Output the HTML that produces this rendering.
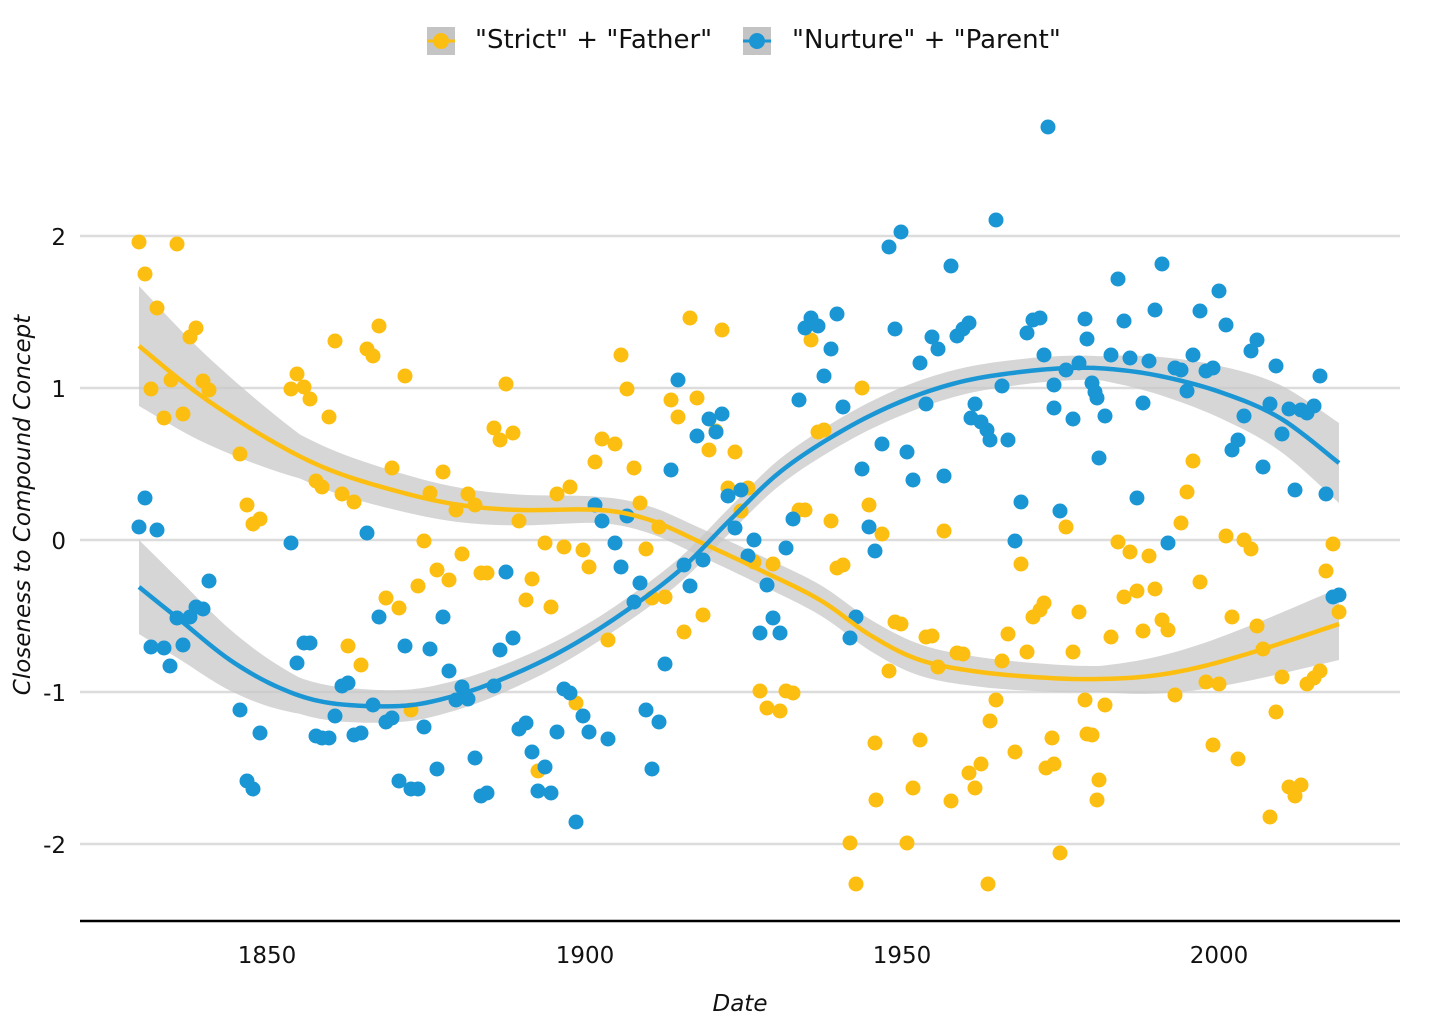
<!DOCTYPE html>
<html><head><meta charset="utf-8"><style>
body{margin:0;background:#fff;}
svg{display:block;font-family:"DejaVu Sans","Liberation Sans",sans-serif;}
</style></head><body>
<svg id="s" width="1432" height="1024" xmlns="http://www.w3.org/2000/svg">
<g stroke="#dcdcdc" stroke-width="2.5">
<line x1="80" x2="1400" y1="236" y2="236"/><line x1="80" x2="1400" y1="388" y2="388"/><line x1="80" x2="1400" y1="540" y2="540"/><line x1="80" x2="1400" y1="692" y2="692"/><line x1="80" x2="1400" y1="844" y2="844"/>
</g>
<g id="bands"></g>
<g id="pts"></g>
<g id="lines"></g>
<line x1="80" x2="1400" y1="921" y2="921" stroke="#000" stroke-width="2.5"/>
<g font-size="23" fill="#111" text-anchor="middle">
<text x="267" y="963">1850</text><text x="585" y="963">1900</text><text x="902" y="963">1950</text><text x="1219" y="963">2000</text>
</g>
<g font-size="23" fill="#111" text-anchor="end">
<text x="66" y="245">2</text><text x="66" y="397">1</text><text x="66" y="549">0</text><text x="66" y="701">-1</text><text x="66" y="853">-2</text>
</g>
<text x="740" y="1011" font-size="23" font-style="italic" text-anchor="middle" fill="#111">Date</text>
<text transform="translate(30,505) rotate(-90)" font-size="23" font-style="italic" text-anchor="middle" fill="#111">Closeness to Compound Concept</text>
<rect x="427" y="27" width="28" height="28" fill="#c4c4c4"/>
<line x1="427" x2="455" y1="41" y2="41" stroke="#fdbe12" stroke-width="3"/>
<circle cx="441" cy="41" r="8" fill="#fdbe12"/>
<text x="475" y="48" font-size="26" fill="#111">"Strict" + "Father"</text>
<rect x="743" y="27" width="28" height="28" fill="#c4c4c4"/>
<line x1="743" x2="771" y1="41" y2="41" stroke="#1b96d4" stroke-width="3"/>
<circle cx="757" cy="41" r="8" fill="#1b96d4"/>
<text x="792" y="48" font-size="26" fill="#111">"Nurture" + "Parent"</text>
</svg>
<script>
var Y=[[139,242],[145,274],[157,308],[151,389],[164,418],[171,380],[177,244],[183,414],[190,337],[196,328],[203,381],[209,390],[240,454],[247,505],[253,524],[260,519],[291,389],[297,374],[304,387],[310,399],[316,481],[322,487],[329,417],[335,341],[342,494],[348,646],[354,502],[361,665],[367,349],[373,356],[379,326],[386,598],[392,468],[399,608],[405,376],[411,710],[418,586],[424,541],[430,493],[437,570],[443,472],[449,580],[456,510],[462,554],[468,494],[475,505],[481,573],[487,573],[494,428],[500,440],[506,384],[513,433],[519,521],[526,600],[532,579],[538,771],[545,543],[551,607],[557,494],[564,547],[570,487],[576,703],[583,550],[589,567],[595,462],[602,439],[608,640],[615,444],[621,355],[627,389],[634,468],[640,503],[646,549],[652,598],[659,527],[665,597],[671,400],[678,417],[684,632],[690,318],[697,398],[703,615],[709,450],[716,431],[722,330],[728,488],[735,452],[741,511],[748,488],[754,562],[760,691],[767,708],[773,564],[780,711],[786,691],[793,693],[799,510],[805,510],[811,340],[818,432],[824,430],[831,521],[837,568],[843,565],[850,843],[856,884],[862,388],[869,505],[875,743],[876,800],[882,534],[889,671],[895,622],[901,624],[907,843],[913,788],[920,740],[926,637],[932,636],[938,667],[944,531],[951,801],[957,653],[963,654],[969,773],[975,788],[981,764],[988,884],[990,721],[996,700],[1002,661],[1008,634],[1015,752],[1021,564],[1027,652],[1033,617],[1040,610],[1044,603],[1046,768],[1052,738],[1054,764],[1060,853],[1066,527],[1073,652],[1079,612],[1085,700],[1087,734],[1092,735],[1097,800],[1099,780],[1105,705],[1111,637],[1118,542],[1124,597],[1130,552],[1137,591],[1143,631],[1149,556],[1155,589],[1162,620],[1168,630],[1175,695],[1181,523],[1187,492],[1193,461],[1200,582],[1206,682],[1213,745],[1219,684],[1226,536],[1232,617],[1238,759],[1244,540],[1251,549],[1257,626],[1263,649],[1270,817],[1276,712],[1282,677],[1289,787],[1295,796],[1301,785],[1307,684],[1314,678],[1320,671],[1326,571],[1333,544],[1339,612]];
var B=[[139,527],[145,498],[151,647],[157,530],[164,648],[170,666],[177,618],[183,645],[190,617],[196,607],[203,609],[209,581],[240,710],[247,781],[253,789],[260,733],[291,543],[297,663],[304,643],[310,643],[316,736],[322,738],[329,738],[335,716],[342,686],[348,683],[354,735],[361,733],[367,533],[373,705],[379,617],[386,722],[392,718],[399,781],[405,646],[411,789],[418,789],[424,727],[430,649],[437,769],[443,617],[449,671],[456,700],[462,687],[468,699],[475,758],[481,796],[487,793],[494,686],[500,650],[506,572],[513,638],[519,729],[526,723],[532,752],[538,791],[545,767],[551,793],[557,732],[564,689],[570,693],[576,822],[583,716],[589,732],[595,505],[602,521],[608,739],[615,543],[621,567],[627,516],[634,602],[640,583],[646,710],[652,769],[659,722],[665,664],[671,470],[678,380],[684,565],[690,586],[697,436],[703,560],[709,419],[716,432],[722,414],[728,496],[735,528],[741,490],[748,556],[754,540],[760,633],[767,585],[773,618],[780,633],[786,548],[793,519],[799,400],[805,328],[811,318],[818,326],[824,376],[831,349],[837,314],[843,407],[850,638],[856,617],[862,469],[869,527],[875,551],[882,444],[889,247],[895,329],[901,232],[907,452],[913,480],[920,363],[926,404],[932,337],[938,349],[944,476],[951,266],[957,336],[963,329],[969,323],[971,418],[975,404],[981,422],[987,430],[990,440],[996,220],[1002,386],[1008,440],[1015,541],[1021,502],[1027,333],[1033,320],[1040,318],[1044,355],[1048,127],[1054,385],[1054,408],[1060,511],[1066,370],[1073,419],[1079,363],[1085,319],[1087,339],[1092,383],[1095,392],[1097,398],[1099,458],[1105,416],[1111,355],[1118,279],[1124,321],[1130,358],[1137,498],[1143,403],[1149,361],[1155,310],[1162,264],[1168,543],[1175,368],[1181,370],[1187,391],[1193,355],[1200,311],[1206,371],[1213,368],[1219,291],[1226,325],[1232,450],[1238,440],[1244,416],[1251,351],[1257,340],[1263,467],[1270,404],[1276,366],[1282,434],[1289,409],[1295,490],[1301,410],[1307,413],[1314,406],[1320,376],[1326,494],[1333,597],[1339,595]];
var YC=[[139,346],[200,395],[270,440],[330,470],[400,492],[460,505],[520,510],[600,510],[650,520],[700,542],[760,570],[820,600],[870,635],[920,660],[980,672],[1050,678],[1100,679],[1150,676],[1200,667],[1260,650],[1339,624]];
var BC=[[139,587],[180,620],[230,660],[280,688],[330,703],[400,706],[450,697],[500,680],[560,652],[620,615],[680,570],[730,520],[780,472],[840,432],[900,402],[960,382],[1020,372],[1070,368],[1110,369],[1160,376],[1220,392],[1280,418],[1339,463]];
var NS="http://www.w3.org/2000/svg";
function interp(c){var o=[];for(var i=0;i<c.length-1;i++){var p0=c[Math.max(0,i-1)],p1=c[i],p2=c[i+1],p3=c[Math.min(c.length-1,i+2)];for(var t=0;t<1;t+=0.1){var t2=t*t,t3=t2*t;var f=function(a,b,c2,d){return 0.5*((2*b)+(-a+c2)*t+(2*a-5*b+4*c2-d)*t2+(-a+3*b-3*c2+d)*t3)};o.push([f(p0[0],p1[0],p2[0],p3[0]),f(p0[1],p1[1],p2[1],p3[1])]);}}o.push(c[c.length-1]);return o;}
function wfun(ws,x){for(var i=0;i<ws.length-1;i++){if(x<=ws[i+1][0]){var r=(x-ws[i][0])/(ws[i+1][0]-ws[i][0]);return ws[i][1]+r*(ws[i+1][1]-ws[i][1]);}}return ws[ws.length-1][1];}
function draw(c,ws,col){var p=interp(c);var up=p.map(function(q){return q[0]+","+(q[1]-wfun(ws,q[0]))});var dn=p.map(function(q){return q[0]+","+(q[1]+wfun(ws,q[0]))}).reverse();var pg=document.createElementNS(NS,"polygon");pg.setAttribute("points",up.concat(dn).join(" "));pg.setAttribute("fill","#c8c8c8");pg.setAttribute("fill-opacity","0.75");document.getElementById("bands").appendChild(pg);var pl=document.createElementNS(NS,"polyline");pl.setAttribute("points",p.map(function(q){return q[0]+","+q[1]}).join(" "));pl.setAttribute("fill","none");pl.setAttribute("stroke",col);pl.setAttribute("stroke-width","4.5");document.getElementById("lines").appendChild(pl);}
draw(YC,[[139,60],[300,22],[600,13],[900,16],[1100,13],[1339,36]],"#fdbe12");
draw(BC,[[139,47],[300,18],[600,12],[900,14],[1100,12],[1339,40]],"#1b96d4");
function pts(a,col){var g=document.getElementById("pts");a.forEach(function(q){var c=document.createElementNS(NS,"circle");c.setAttribute("cx",q[0]);c.setAttribute("cy",q[1]);c.setAttribute("r","7.5");c.setAttribute("fill",col);g.appendChild(c);});}
pts(Y,"#fdbe12");pts(B,"#1b96d4");
</script>
</body></html>
